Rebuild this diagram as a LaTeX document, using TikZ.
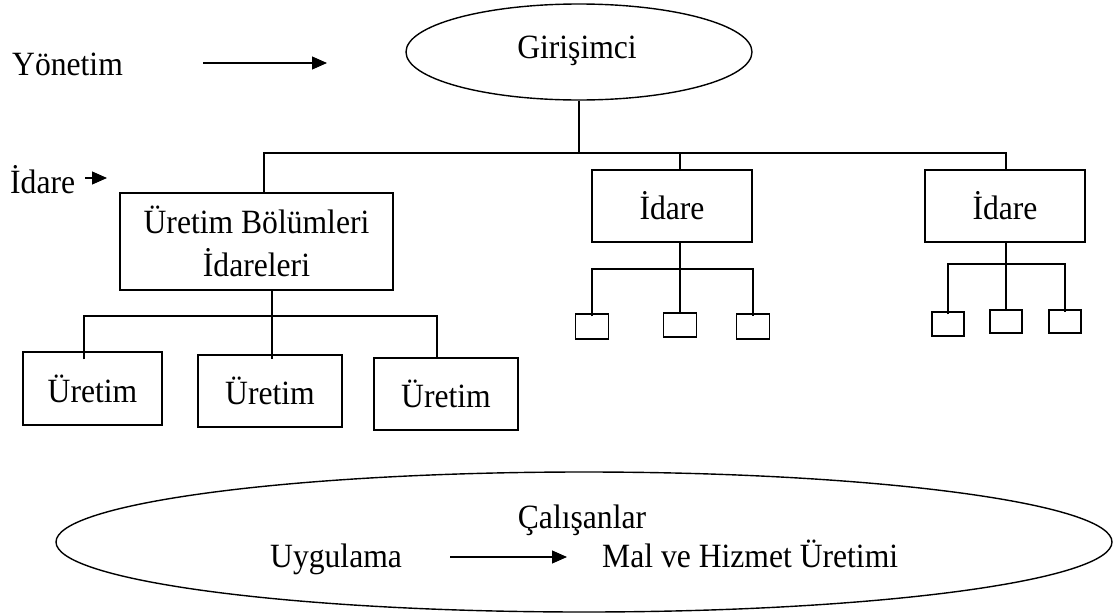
\documentclass[tikz,border=0pt]{standalone}
\usepackage{fontspec}
\setmainfont{Liberation Serif}[FakeStretch=0.93]
\usetikzlibrary{arrows.meta,shapes.geometric}
\begin{document}
\begin{tikzpicture}[x=1pt,y=-1pt,
  every node/.style={font=\fontsize{34}{43}\selectfont, inner sep=0pt},
  box/.style={draw, line width=1.4pt, rectangle, align=center},
  sbox/.style={draw, line width=1.4pt, rectangle, minimum width=33pt, minimum height=25pt},
  oval/.style={draw, line width=1.4pt, ellipse},
  conn/.style={line width=1.4pt},
  arr/.style={line width=1.1pt, -{Triangle[length=15pt,width=13pt]}}
]
\useasboundingbox (0,0) rectangle (1117,616);

% top
\node[oval, minimum width=346pt, minimum height=96pt] (gir) at (579,52) {};
\node[anchor=base] (girt) at (577,58) {Giri\c{s}imci};
\node[anchor=base west] (yon) at (12,75) {Yönetim};
\coordinate (yb) at (327,63);
\draw[arr, shorten <=80pt] (yon.east |- yb) -- (yb);

\node[anchor=base west] (idl) at (10,193) {İdare};
\coordinate (ia) at (107,178);
\draw[arr, shorten <=10pt] (idl.east |- ia) -- (ia);

% second level
\node[box, minimum width=273pt, minimum height=97pt] (ub) at (256.5,241.5) {Üretim Bölümleri\\İdareleri};
\node[box, minimum width=160pt, minimum height=72pt] (id1) at (672,206) {İdare};
\node[box, minimum width=160pt, minimum height=72pt] (id2) at (1005,206) {İdare};

\coordinate (tb0) at (264,153);
\coordinate (tb1) at (680,153);
\coordinate (tb2) at (1006,153);
\draw[conn] (gir.south) -- (gir.south |- tb0);
\draw[conn] (ub.north -| tb0) -- (tb0) -- (tb2) -- (id2.north -| tb2);
\draw[conn] (id1.north -| tb1) -- (tb1);

% Uretim boxes
\node[box, minimum width=139pt, minimum height=73pt] (u1) at (92.5,388.5) {Üretim};
\node[box, minimum width=144pt, minimum height=72pt] (u2) at (270,391) {Üretim};
\node[box, minimum width=144pt, minimum height=72pt] (u3) at (446,394) {Üretim};

\coordinate (t1) at (84,316);
\coordinate (t2) at (272,316);
\coordinate (t3) at (437,316);
\draw[conn] (ub.south -| t2) -- ([yshift=-5pt]u2.north -| t2);
\draw[conn] ([yshift=-8pt]u1.north -| t1) -- (t1) -- (t3) -- (u3.north -| t3);

% small boxes under id1
\node[sbox] (s11) at (592,326.5) {};
\node[sbox, minimum height=24pt] (s12) at (680,325) {};
\node[sbox] (s13) at (753,326.5) {};
\coordinate (j1) at (680,269);
\draw[conn] (id1.south -| j1) -- (s12.north);
\draw[conn] ([yshift=-3pt]s11.north) |- (j1) -| ([yshift=-3pt]s13.north);

% small boxes under id2
\node[sbox, minimum width=32pt, minimum height=24pt] (s21) at (948,324) {};
\node[sbox, minimum width=32pt, minimum height=23pt] (s22) at (1006,321.5) {};
\node[sbox, minimum width=32pt, minimum height=23pt] (s23) at (1065,321.5) {};
\coordinate (j2) at (1006,264);
\draw[conn] (id2.south -| j2) -- (s22.north);
\draw[conn] ([yshift=-3pt]s21.north) |- (j2) -| ([yshift=-3pt]s23.north);

% bottom ellipse
\node[oval, minimum width=1056pt, minimum height=140pt] (cal) at (584,542) {};
\node[anchor=base] (cals) at (582,528) {\c{C}al\i\c{s}anlar};
\node[anchor=base west] (uyg) at (270,567) {Uygulama};
\node[anchor=base west] (mal) at (602,567) {Mal ve Hizmet Üretimi};
\coordinate (ar) at (500,557);
\draw[arr, shorten <=48pt, shorten >=35pt] (uyg.east |- ar) -- (mal.west |- ar);
\end{tikzpicture}
\end{document}
